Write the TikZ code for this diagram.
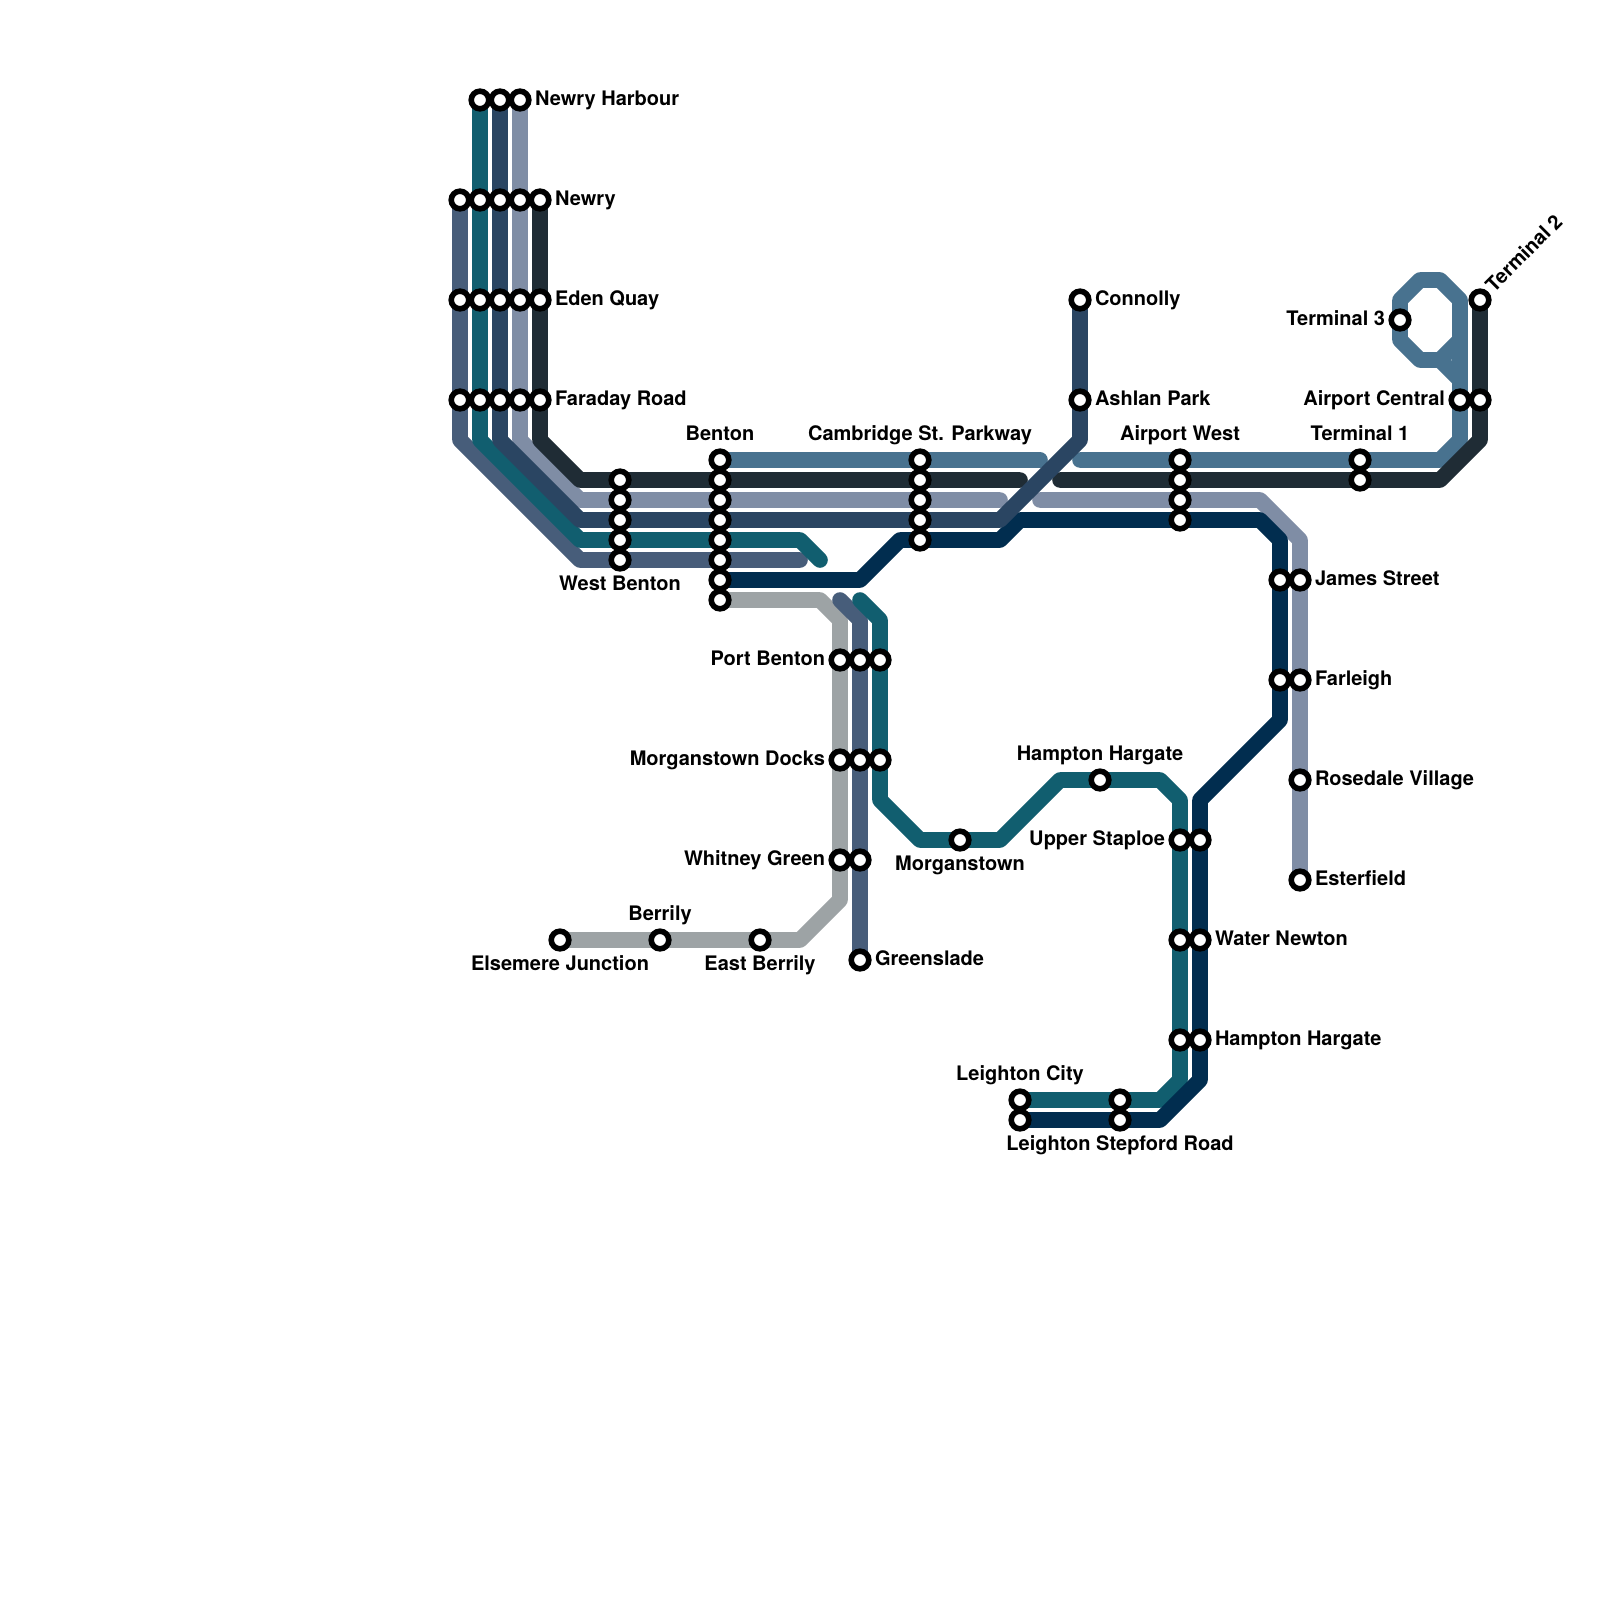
\documentclass[tikz,border=0pt]{standalone}
\usepackage{fontspec}
\setmainfont{TeX Gyre Heros}
\pgfdeclarelayer{lines}
\pgfsetlayers{lines,main}
\definecolor{cSteel}{HTML}{48728F}
\definecolor{cDark}{HTML}{1F2C35}
\definecolor{cGrayblue}{HTML}{7F8DA5}
\definecolor{cNavyblue}{HTML}{2A4562}
\definecolor{cTeal}{HTML}{115E6F}
\definecolor{cSlate}{HTML}{475D7A}
\definecolor{cNavy}{HTML}{012D4F}
\definecolor{cGray}{HTML}{9DA3A5}
\tikzset{
  stn/.style={circle,draw=black,fill=white,line width=5.6pt,minimum size=17.6pt,inner sep=0pt,outer sep=0pt},
  lbl/.style={font=\fontsize{20}{24}\selectfont\bfseries,inner sep=0pt,outer sep=0pt,text=black},
  lblr/.style={lbl,anchor=base west},
  lbll/.style={lbl,anchor=base east},
  lblc/.style={lbl,anchor=base},
  route/.style={line width=15.6pt,line cap=round,line join=round},
}
\begin{document}
\begin{tikzpicture}[x=1pt,y=-1pt]
\useasboundingbox (0,0) rectangle (1600,1600);
% stations
\node[stn] (h1) at (480,100) {};
\node[stn] (h2) at (500,100) {};
\node[stn] (h3) at (520,100) {};
\node[stn] (n1) at (460,200) {};
\node[stn] (n2) at (480,200) {};
\node[stn] (n3) at (500,200) {};
\node[stn] (n4) at (520,200) {};
\node[stn] (n5) at (540,200) {};
\node[stn] (e1) at (460,300) {};
\node[stn] (e2) at (480,300) {};
\node[stn] (e3) at (500,300) {};
\node[stn] (e4) at (520,300) {};
\node[stn] (e5) at (540,300) {};
\node[stn] (f1) at (460,400) {};
\node[stn] (f2) at (480,400) {};
\node[stn] (f3) at (500,400) {};
\node[stn] (f4) at (520,400) {};
\node[stn] (f5) at (540,400) {};
\node[stn] (w1) at (620,480) {};
\node[stn] (w2) at (620,500) {};
\node[stn] (w3) at (620,520) {};
\node[stn] (w4) at (620,540) {};
\node[stn] (w5) at (620,560) {};
\node[stn] (b1) at (720,460) {};
\node[stn] (b2) at (720,480) {};
\node[stn] (b3) at (720,500) {};
\node[stn] (b4) at (720,520) {};
\node[stn] (b5) at (720,540) {};
\node[stn] (b6) at (720,560) {};
\node[stn] (b7) at (720,580) {};
\node[stn] (b8) at (720,600) {};
\node[stn] (c1) at (920,460) {};
\node[stn] (c2) at (920,480) {};
\node[stn] (c3) at (920,500) {};
\node[stn] (c4) at (920,520) {};
\node[stn] (c5) at (920,540) {};
\node[stn] (aw1) at (1180,460) {};
\node[stn] (aw2) at (1180,480) {};
\node[stn] (aw3) at (1180,500) {};
\node[stn] (aw4) at (1180,520) {};
\node[stn] (tm1a) at (1360,460) {};
\node[stn] (tm1b) at (1360,480) {};
\node[stn] (tm3) at (1400,320) {};
\node[stn] (tm2) at (1480,300) {};
\node[stn] (ac1) at (1460,400) {};
\node[stn] (ac2) at (1480,400) {};
\node[stn] (con) at (1080,300) {};
\node[stn] (ash) at (1080,400) {};
\node[stn] (js1) at (1280,580) {};
\node[stn] (js2) at (1300,580) {};
\node[stn] (fa1) at (1280,680) {};
\node[stn] (fa2) at (1300,680) {};
\node[stn] (ros) at (1300,780) {};
\node[stn] (est) at (1300,880) {};
\node[stn] (pb1) at (840,660) {};
\node[stn] (pb2) at (860,660) {};
\node[stn] (pb3) at (880,660) {};
\node[stn] (md1) at (840,760) {};
\node[stn] (md2) at (860,760) {};
\node[stn] (md3) at (880,760) {};
\node[stn] (wg1) at (840,860) {};
\node[stn] (wg2) at (860,860) {};
\node[stn] (gre) at (860,960) {};
\node[stn] (els) at (560,940) {};
\node[stn] (ber) at (660,940) {};
\node[stn] (ebe) at (760,940) {};
\node[stn] (mor) at (960,840) {};
\node[stn] (hh) at (1100,780) {};
\node[stn] (us1) at (1180,840) {};
\node[stn] (us2) at (1200,840) {};
\node[stn] (wn1) at (1180,940) {};
\node[stn] (wn2) at (1200,940) {};
\node[stn] (hh1) at (1180,1040) {};
\node[stn] (hh2) at (1200,1040) {};
\node[stn] (lc1) at (1020,1100) {};
\node[stn] (lc2) at (1020,1120) {};
\node[stn] (ls1) at (1120,1100) {};
\node[stn] (ls2) at (1120,1120) {};
% labels
\node[lblr] (lHarb) at (535,106) {Newry Harbour};
\node[lblr] (lNewry) at (555,205) {Newry};
\node[lblr] (lEden) at (555,305) {Eden Quay};
\node[lblr] (lFar) at (555,405) {Faraday Road};
\node[lblc] (lBen) at (720,440) {Benton};
\node[lblc] (lCam) at (920,440) {Cambridge St. Parkway};
\node[lblc] (lAW) at (1180,440) {Airport West};
\node[lblc] (lT1) at (1360,440) {Terminal 1};
\node[lbll] (lAC) at (1445,405) {Airport Central};
\node[lbll] (lT3) at (1385,325) {Terminal 3};
\node[lbl,anchor=base west,rotate=45] (lT2) at (1494,293) {Terminal 2};
\node[lblr] (lCon) at (1095,305) {Connolly};
\node[lblr] (lAsh) at (1095,405) {Ashlan Park};
\node[lblr] (lJS) at (1315,585) {James Street};
\node[lblr] (lFa) at (1315,685) {Farleigh};
\node[lblr] (lRo) at (1315,785) {Rosedale Village};
\node[lblr] (lEs) at (1315,885) {Esterfield};
\node[lblc] (lWB) at (620,590) {West Benton};
\node[lbll] (lPB) at (825,665) {Port Benton};
\node[lbll] (lMD) at (825,765) {Morganstown Docks};
\node[lbll] (lWG) at (825,865) {Whitney Green};
\node[lblr] (lGr) at (875,965) {Greenslade};
\node[lblc] (lBe) at (660,920) {Berrily};
\node[lblc] (lEl) at (560,970) {Elsemere Junction};
\node[lblc] (lEB) at (760,970) {East Berrily};
\node[lblc] (lMo) at (960,870) {Morganstown};
\node[lblc] (lHH) at (1100,760) {Hampton Hargate};
\node[lbll] (lUS) at (1165,845) {Upper Staploe};
\node[lblr] (lWN) at (1215,945) {Water Newton};
\node[lblr] (lHH2) at (1215,1045) {Hampton Hargate};
\node[lblc] (lLC) at (1020,1080) {Leighton City};
\node[lblc] (lLS) at (1120,1150) {Leighton Stepford Road};
% bends and free ends
\coordinate (sl1) at (460,440); \coordinate (sl2) at (580,560); \coordinate (sl3) at (800,560);
\coordinate (te1) at (480,440); \coordinate (te2) at (580,540); \coordinate (te3) at (800,540); \coordinate (te4) at (820,560);
\coordinate (nb1) at (500,440); \coordinate (nb2) at (580,520); \coordinate (nb3) at (1000,520); \coordinate (nb4) at (1080,440);
\coordinate (gb1) at (520,440); \coordinate (gb2) at (580,500); \coordinate (gb3) at (1000,500);
\coordinate (gb4) at (1040,500); \coordinate (gb5) at (1260,500); \coordinate (gb6) at (1300,540);
\coordinate (d1) at (540,440); \coordinate (d2) at (580,480); \coordinate (d3) at (1020,480);
\coordinate (d4) at (1060,480); \coordinate (d5) at (1440,480); \coordinate (d6) at (1480,440);
\coordinate (s1) at (1040,460); \coordinate (s2) at (1080,460); \coordinate (s3) at (1440,460); \coordinate (s4) at (1460,440);
\coordinate (s5) at (1460,300); \coordinate (s6) at (1440,280); \coordinate (s7) at (1420,280); \coordinate (s8) at (1400,300);
\coordinate (s9) at (1400,340); \coordinate (s10) at (1420,360); \coordinate (s11) at (1440,360); \coordinate (s12) at (1460,380);
\coordinate (s13) at (1460,340);
\coordinate (na1) at (860,580); \coordinate (na2) at (900,540); \coordinate (na3) at (1000,540); \coordinate (na4) at (1020,520);
\coordinate (na5) at (1260,520); \coordinate (na6) at (1280,540); \coordinate (na7) at (1280,720); \coordinate (na8) at (1200,800);
\coordinate (na9) at (1200,1080); \coordinate (na10) at (1160,1120);
\coordinate (tt0) at (860,600); \coordinate (tt1) at (880,620); \coordinate (tt2) at (880,800); \coordinate (tt3) at (920,840);
\coordinate (tt4) at (1000,840); \coordinate (tt5) at (1060,780); \coordinate (tt6) at (1160,780); \coordinate (tt7) at (1180,800);
\coordinate (tt8) at (1180,1080); \coordinate (tt9) at (1160,1100);
\coordinate (sb0) at (840,600); \coordinate (sb1) at (860,620);
\coordinate (gr1) at (820,600); \coordinate (gr2) at (840,620); \coordinate (gr3) at (840,900); \coordinate (gr4) at (800,940);
\begin{pgfonlayer}{lines}
\fill[white] (0,0) rectangle (1600,1600);
\draw[route,cGray] (b8.center) -- (gr1) -- (gr2) -- (gr3) -- (gr4) -- (els.center);
\draw[route,cSlate] (n1.center) -- (sl1) -- (sl2) -- (sl3);
\draw[route,cSlate] (sb0) -- (sb1) -- (gre.center);
\draw[route,cTeal] (h1.center) -- (te1) -- (te2) -- (te3) -- (te4);
\draw[route,cTeal] (tt0) -- (tt1) -- (tt2) -- (tt3) -- (tt4) -- (tt5) -- (tt6) -- (tt7) -- (tt8) -- (tt9) -- (lc1.center);
\draw[route,cSteel] (b1.center) -- (s1);
\draw[route,cSteel] (s2) -- (s3) -- (s4) -- (s5) -- (s6) -- (s7) -- (s8) -- (s9) -- (s10) -- (s11) -- (s12);
\draw[route,cSteel] (s13) -- (s11);
\draw[route,cGrayblue] (h3.center) -- (gb1) -- (gb2) -- (gb3);
\draw[route,cGrayblue] (gb4) -- (gb5) -- (gb6) -- (est.center);
\draw[route,cDark] (n5.center) -- (d1) -- (d2) -- (d3);
\draw[route,cDark] (d4) -- (d5) -- (d6) -- (tm2.center);
\draw[route,cNavy] (b7.center) -- (na1) -- (na2) -- (na3) -- (na4) -- (na5) -- (na6) -- (na7) -- (na8) -- (na9) -- (na10) -- (lc2.center);
\draw[route,cNavyblue] (h2.center) -- (nb1) -- (nb2) -- (nb3) -- (nb4) -- (con.center);
\end{pgfonlayer}
\end{tikzpicture}
\end{document}
